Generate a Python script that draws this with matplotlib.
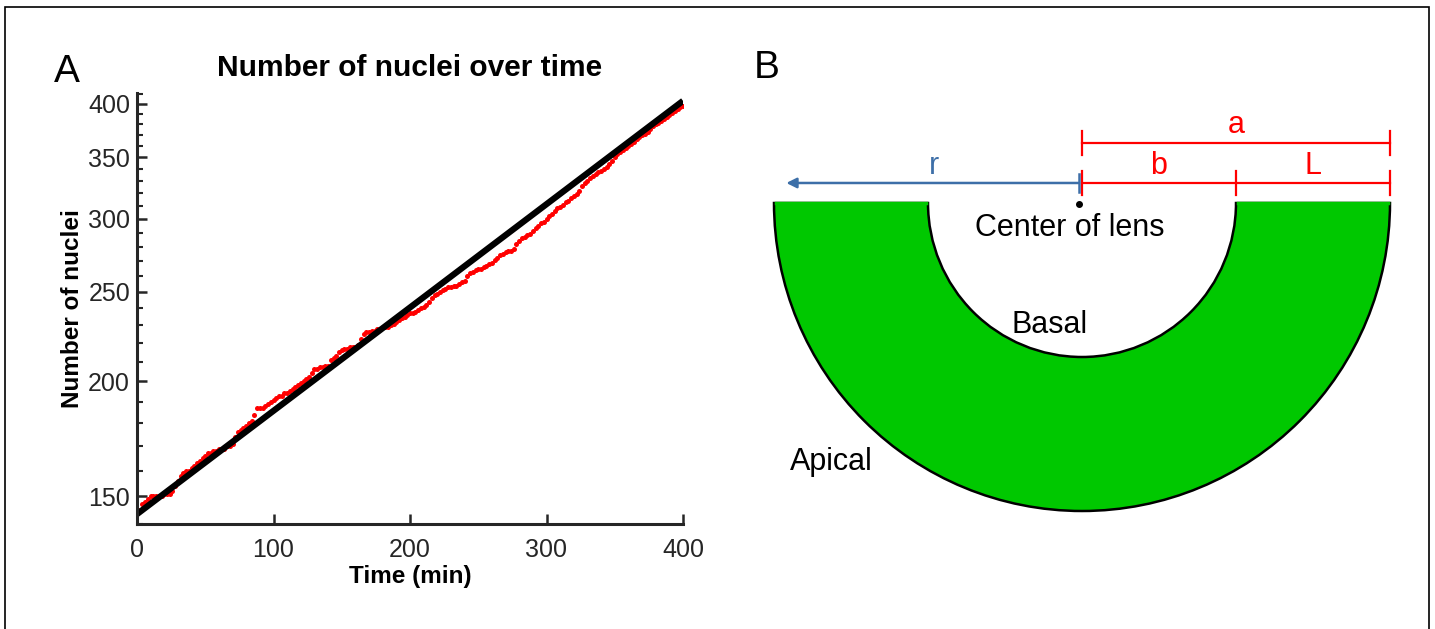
import matplotlib
matplotlib.use("Agg")
import matplotlib.pyplot as plt
import numpy as np
from matplotlib.patches import Wedge, Rectangle
from matplotlib.ticker import NullFormatter, FixedLocator

plt.rcParams['font.family'] = ['Liberation Sans', 'DejaVu Sans']

# panel A data: nuclei count read every 2 min
time_min = np.arange(0, 401, 2)
nuclei = [
    144, 145, 147, 148, 149, 150, 150, 150, 150, 150,
    151, 151, 151, 152, 154, 156, 158, 159, 160, 160,
    161, 162, 163, 164, 165, 166, 167, 167, 168, 168,
    169, 169, 169, 170, 170, 171, 174, 176, 177, 178,
    179, 180, 181, 184, 187, 187, 187, 188, 189, 190,
    191, 192, 193, 193, 194, 194, 195, 196, 197, 198,
    199, 200, 201, 202, 204, 206, 206, 207, 207, 208,
    208, 211, 212, 213, 215, 216, 217, 217, 218, 218,
    218, 219, 222, 225, 226, 226, 227, 227, 228, 228,
    229, 229, 229, 230, 231, 232, 233, 234, 235, 236,
    237, 237, 238, 239, 240, 241, 242, 244, 246, 248,
    249, 250, 251, 252, 253, 253, 254, 254, 255, 256,
    257, 260, 262, 263, 264, 265, 265, 266, 267, 268,
    269, 271, 272, 274, 275, 276, 277, 277, 278, 282,
    284, 286, 287, 288, 289, 291, 293, 295, 297, 298,
    300, 302, 304, 306, 308, 309, 311, 313, 314, 316,
    318, 319, 322, 326, 328, 330, 332, 334, 336, 337,
    338, 340, 342, 344, 347, 350, 353, 355, 356, 358,
    360, 362, 364, 366, 368, 370, 371, 373, 376, 378,
    380, 381, 383, 385, 387, 389, 391, 393, 395, 397,
    398,
]
# exponential fit (straight on log axis), endpoints
fit_t = [0, 400]
fit_n = [143.5, 403]

yticks = [150, 200, 250, 300, 350, 400]
xticks = [0, 100, 200, 300, 400]

# panel B geometry, in units of the inner radius b
b_len = 1.0
L_len = 1.0
a_len = b_len + L_len
r_len = 1.92
a_bar_y = 0.39
bl_bar_y = 0.13

W, H = 1435, 629
fig = plt.figure(figsize=(W / 100, H / 100), dpi=100)
fig.patches.append(Rectangle((5 / W, -0.01), 1424 / W, 1 - 7 / H + 0.01,
                             transform=fig.transFigure, fill=False,
                             edgecolor='black', linewidth=1.2))

axc = '#262626'
ax = fig.add_axes([137 / W, 1 - 524 / H, 546 / W, 431 / H])
ax.plot(time_min, nuclei, 'o', color='red', markersize=3.6, markeredgewidth=0)
ax.plot(fit_t, fit_n, '-', color='black', linewidth=4.5, solid_capstyle='butt')
ax.set_yscale('log')
ax.set_ylim(140, 411)
ax.set_xlim(0, 400)
ax.yaxis.set_major_locator(FixedLocator(yticks))
ax.yaxis.set_minor_locator(FixedLocator(np.arange(140, 411, 10)))
ax.set_yticklabels([str(v) for v in yticks])
ax.yaxis.set_minor_formatter(NullFormatter())
ax.set_xticks(xticks)
ax.tick_params(axis='both', which='major', direction='in', length=7, width=1.8,
               labelsize=18, colors=axc)
ax.tick_params(axis='y', which='major', pad=5)
ax.tick_params(axis='x', which='major', pad=10)
ax.tick_params(axis='y', which='minor', direction='in', length=4, width=1.5, colors=axc)
ax.tick_params(axis='x', which='minor', bottom=False)
for s in ['top', 'right']:
    ax.spines[s].set_visible(False)
for s in ['left', 'bottom']:
    ax.spines[s].set_linewidth(2.2)
    ax.spines[s].set_color(axc)
ax.set_title('Number of nuclei over time', fontsize=21.5, fontweight='bold', pad=12)
ax.set_xlabel('Time (min)', fontsize=17.5, fontweight='bold', labelpad=2)
ax.set_ylabel('Number of nuclei', fontsize=17.5, fontweight='bold', labelpad=3)
fig.text(67 / W, 1 - 72 / H, 'A', fontsize=28, ha='center', va='center')
fig.text(767 / W, 1 - 68 / H, 'B', fontsize=28, ha='center', va='center')

# panel B diagram
cx_px, cy_px, unit = 1082, 203, 154
x0, x1, y0, y1 = 760, 1420, 40, 570
axb = fig.add_axes([x0 / W, 1 - y1 / H, (x1 - x0) / W, (y1 - y0) / H])
axb.set_xlim((x0 - cx_px) / unit, (x1 - cx_px) / unit)
axb.set_ylim((cy_px - y1) / unit, (cy_px - y0) / unit)
axb.axis('off')
axb.add_patch(Wedge((0, 0), a_len, 180, 360, width=L_len, facecolor='#00c800',
                    edgecolor='black', linewidth=1.8))
# cover the straight top edge
axb.plot([-a_len + 0.01, -b_len - 0.01], [0, 0], color='#00c800', linewidth=2.5)
axb.plot([b_len + 0.01, a_len - 0.01], [0, 0], color='#00c800', linewidth=2.5)
axb.plot([-0.02], [-0.005], 'o', color='black', markersize=4)

red = '#ff0000'
tick_h = 0.08
axb.plot([0, a_len], [a_bar_y, a_bar_y], color=red, linewidth=1.6)
for xx in [0, a_len]:
    axb.plot([xx, xx], [a_bar_y - tick_h, a_bar_y + tick_h], color=red, linewidth=1.6)
axb.plot([0, a_len], [bl_bar_y, bl_bar_y], color=red, linewidth=1.6)
for xx in [0, b_len, a_len]:
    axb.plot([xx, xx], [bl_bar_y - tick_h, bl_bar_y + tick_h], color=red, linewidth=1.6)
blue = '#3d6fa8'
axb.annotate('', xy=(-r_len, bl_bar_y), xytext=(-0.02, bl_bar_y),
             arrowprops=dict(arrowstyle='-|>', color=blue, lw=1.8, mutation_scale=15,
                             shrinkA=0, shrinkB=0))
axb.plot([-0.02, -0.02], [bl_bar_y - 0.06, bl_bar_y + 0.06], color=blue, linewidth=1.8)

fs = 22
axb.text(a_len / 2, a_bar_y + 0.02, 'a', color=red, fontsize=fs, ha='center', va='bottom')
axb.text(b_len / 2, bl_bar_y + 0.01, 'b', color=red, fontsize=fs, ha='center', va='bottom')
axb.text(b_len + L_len / 2, bl_bar_y + 0.01, 'L', color=red, fontsize=fs, ha='center', va='bottom')
axb.text(-r_len / 2, bl_bar_y + 0.01, 'r', color=blue, fontsize=fs, ha='center', va='bottom')
axb.text(-0.08, -0.16, 'Center of lens', fontsize=fs, ha='center', va='center')
axb.text(-0.21, -0.79, 'Basal', fontsize=fs, ha='center', va='center')
axb.text(-1.63, -1.68, 'Apical', fontsize=fs, ha='center', va='center')

fig.savefig('out.png', dpi=100)
